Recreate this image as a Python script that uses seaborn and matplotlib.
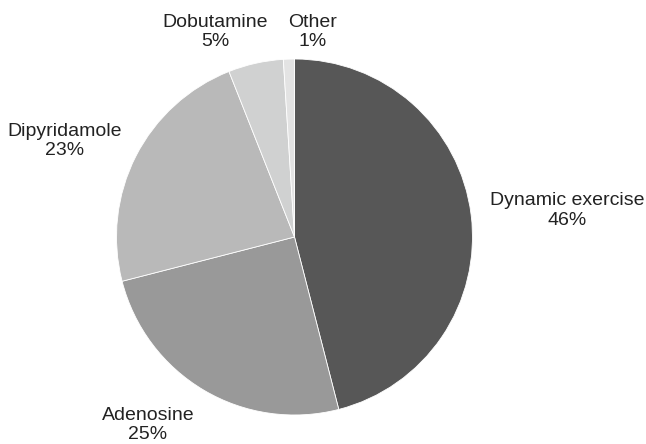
import matplotlib
matplotlib.use("Agg")
import matplotlib.pyplot as plt
import seaborn as sns

# Stress test modality shares
categories = ["Dynamic exercise", "Adenosine", "Dipyridamole", "Dobutamine", "Other"]
shares = [46, 25, 23, 5, 1]
colors = ["#575757", "#999999", "#b9b9b9", "#d0d1d1", "#e3e3e3"]

# label centres in pie-radius units
label_pos = [(1.534, 0.149), (-0.823, -1.056), (-1.292, 0.539), (-0.444, 1.152), (0.104, 1.152)]

sns.set_style("white")
plt.rcParams["font.family"] = ["Liberation Sans", "DejaVu Sans"]

fig = plt.figure(figsize=(6.46, 4.44), dpi=100)
ax = fig.add_axes([0, 0, 1, 1])
ax.pie(shares, colors=colors, startangle=90, counterclock=False,
       wedgeprops=dict(edgecolor="white", linewidth=0.6))

for name, val, (x, y) in zip(categories, shares, label_pos):
    ax.text(x, y, f"{name}\n{val}%", ha="center", va="center",
            fontsize=14, color="#222222", linespacing=1.18)

ax.set_xlim(-294.5 / 178, (646 - 294.5) / 178)
ax.set_ylim(-207 / 178, 237 / 178)
ax.set_aspect("auto")
ax.axis("off")

fig.savefig("out.png", dpi=100)
